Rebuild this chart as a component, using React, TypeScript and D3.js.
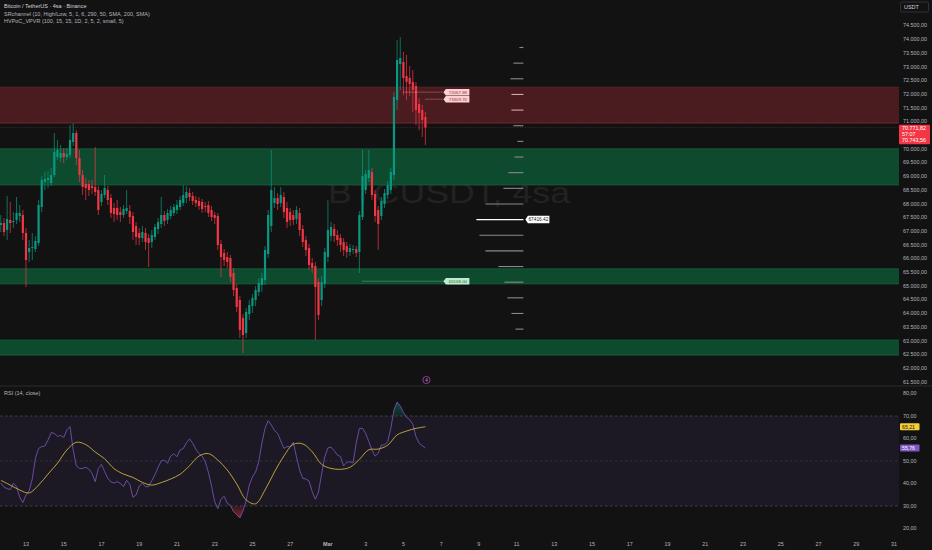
import * as d3 from 'd3'

const FONT = "'Liberation Sans', Arial, sans-serif"
const BG = '#121212'
const UP = '#089981'
const DOWN = '#f23645'

// 4h bars, first one opens Feb 11 16:00
const BAR_START = Date.UTC(2026, 1, 11, 16)
const BAR_MS = 4 * 3600 * 1000

const OPEN = [
  67219, 67292, 67036, 67401, 67328, 67401, 67547, 67584, 66927, 66233,
  66379, 66343, 66562, 67876, 68788, 68861, 68752, 69044, 69701, 69664,
  69847, 69701, 69774, 70248, 70577, 69664, 69044, 68715, 68715, 68642,
  68606, 68496, 68058, 68314, 68496, 68204, 67839, 67839, 67693, 67584,
  67730, 67730, 67547, 67182, 66927, 66744, 66927, 66744, 66598, 66781,
  67073, 67255, 67584, 67401, 67547, 67657, 67766, 67876, 68022, 68204,
  68387, 68277, 68131, 68095, 68058, 67912, 67949, 67766, 67584, 67547,
  66525, 66197, 66051, 66014, 65466, 64919, 64481, 63824, 63277, 63970,
  64262, 64481, 64773, 65029, 65211, 66160, 67182, 68022, 68204, 68022,
  68241, 67839, 67693, 67584, 67438, 67657, 67073, 66671, 66379, 65832,
  65722, 65138, 64481, 65065, 66051, 66817, 67073, 66854, 66744, 66598,
  66452, 66233, 66306, 66343, 66233, 67511, 68496, 68934, 69153, 68350,
  67766, 67547, 67985, 68314, 68496, 69044, 71781, 73095, 73168, 72657,
  72584, 72438, 72292, 71635, 71416, 71161,
]
const HIGH = [
  67584, 67474, 68277, 68058, 67693, 68241, 67949, 67766, 67109, 66671,
  66927, 66817, 68131, 69007, 69153, 69190, 69299, 70577, 70321, 70139,
  70029, 70029, 70869, 70942, 70686, 69956, 69226, 68934, 68861, 68861,
  70066, 68642, 68496, 69044, 68642, 68350, 68022, 68131, 67876, 67949,
  68496, 67949, 67693, 67328, 67109, 67182, 67109, 66890, 67036, 67255,
  67474, 68241, 67730, 67803, 67912, 67985, 68131, 68277, 68679, 68642,
  68569, 68423, 68277, 68241, 68168, 68058, 68095, 67912, 67693, 67657,
  66671, 66343, 66233, 66124, 65649, 65065, 64627, 63970, 64189, 64481,
  64700, 64992, 65284, 65466, 66452, 67766, 69956, 68606, 68387, 68606,
  68423, 68058, 67839, 67766, 67912, 67839, 67219, 66817, 66525, 66014,
  65868, 65284, 65357, 66379, 68131, 67328, 67255, 67036, 66890, 66744,
  66598, 66525, 66489, 66452, 67730, 69956, 69226, 69956, 69299, 68496,
  67912, 68241, 68533, 68825, 69299, 72073, 73971, 74080, 73533, 73424,
  73022, 72876, 72438, 71854, 71599, 71343,
]
const LOW = [
  66963, 66817, 66671, 66927, 67109, 67255, 67328, 66671, 64956, 65868,
  65941, 66233, 66452, 67693, 68496, 68569, 68642, 68971, 69591, 69518,
  69481, 69591, 69664, 70102, 69408, 68788, 68314, 68131, 68277, 68350,
  68277, 67584, 67912, 68204, 67949, 67474, 67328, 67401, 67328, 67474,
  67620, 67255, 66671, 66489, 66489, 66598, 66306, 65686, 66379, 66671,
  66890, 67109, 67182, 67255, 67438, 67547, 67620, 67766, 67912, 68022,
  68095, 67949, 67876, 67766, 67657, 67693, 67511, 67365, 67255, 66306,
  65321, 65722, 65649, 65138, 64627, 64043, 63094, 62547, 63094, 63751,
  64007, 64262, 64627, 64773, 65029, 66014, 66963, 67839, 67766, 67876,
  67474, 67109, 67182, 67219, 67255, 66817, 66416, 66087, 65576, 65466,
  63021, 63751, 64262, 64919, 65868, 66635, 66598, 66452, 66233, 66087,
  66014, 66087, 66160, 66051, 65466, 67401, 68350, 68788, 68131, 67328,
  66306, 67401, 67839, 68168, 68350, 68861, 71416, 72146, 71964, 71781,
  71927, 71343, 70869, 70686, 70431, 70139,
]
const CLOSE = [
  67292, 66963, 67438, 67292, 67365, 67657, 67657, 66927, 65941, 66379,
  66416, 66635, 67949, 68861, 68898, 68934, 69044, 69883, 69956, 69847,
  69701, 69810, 70321, 70577, 69664, 69044, 68606, 68569, 68496, 68569,
  68423, 67766, 68350, 68569, 68131, 67657, 67620, 67584, 67584, 67803,
  67839, 67511, 66963, 66781, 66744, 66963, 66598, 66562, 66854, 67146,
  67328, 67584, 67365, 67657, 67766, 67876, 67949, 68131, 68314, 68423,
  68241, 68095, 68022, 67912, 67803, 67876, 67657, 67511, 67474, 66489,
  66051, 65941, 65868, 65321, 64846, 64226, 63386, 63203, 64043, 64298,
  64554, 64846, 65102, 65284, 66306, 67584, 68496, 68204, 67985, 68314,
  67693, 67328, 67401, 67401, 67766, 67036, 66598, 66306, 65759, 65649,
  64956, 63933, 65138, 66233, 67036, 67146, 66817, 66671, 66489, 66306,
  66233, 66379, 66343, 66197, 67584, 69007, 69080, 69226, 68314, 67547,
  67255, 68095, 68387, 68679, 69153, 71891, 73241, 73314, 72584, 72438,
  72365, 72146, 71416, 71307, 71051, 70771.82,
]

// RSI(14) per bar, and its moving average read every third bar
const RSI = [
  40.2, 38.4, 37.7, 37.3, 40.1, 38.6, 33.9, 31.5, 34.9, 36.7,
  42.1, 51.2, 55.6, 56.4, 56.7, 59.3, 62.6, 62.3, 61.0, 61.3,
  60.5, 63.8, 65.3, 54.9, 47.8, 46.7, 46.7, 47.2, 46.4, 44.5,
  40.8, 46.7, 48.5, 45.3, 42.4, 40.7, 40.2, 40.8, 40.1, 38.6,
  41.4, 39.6, 33.9, 34.9, 38.9, 40.1, 38.6, 38.6, 41.3, 43.9,
  47.2, 50.0, 50.4, 49.0, 52.1, 53.3, 51.9, 54.9, 55.5, 58.1,
  59.8, 57.9, 55.2, 53.3, 52.2, 49.7, 45.0, 38.9, 31.9, 28.8,
  33.1, 34.3, 31.2, 30.3, 27.5, 26.1, 24.7, 27.8, 32.4, 39.3,
  42.9, 45.1, 49.7, 57.9, 64.5, 67.9, 66.0, 63.6, 62.3, 58.9,
  55.6, 56.4, 56.4, 58.3, 51.9, 46.0, 42.3, 42.0, 41.1, 36.4,
  33.0, 36.2, 44.2, 51.9, 55.8, 56.2, 54.6, 52.7, 51.9, 47.8,
  49.4, 49.7, 49.1, 57.9, 64.5, 64.5, 62.3, 58.6, 54.9, 52.2,
  53.4, 57.1, 57.1, 58.6, 64.5, 72.7, 76.2, 74.4, 71.6, 69.4,
  68.4, 66.3, 60.8, 57.9, 56.8, 55.76,
]
const RSI_MA = [
  41.4, 39.3, 37.1, 35.8, 39.3, 44.2, 49.0, 54.9, 58.3, 57.3,
  54.0, 51.0, 46.6, 44.2, 42.7, 40.5, 39.3, 40.4, 42.0, 44.1,
  47.9, 52.2, 53.3, 50.4, 46.0, 39.8, 32.7, 31.0, 37.1, 45.1,
  52.2, 57.4, 57.6, 54.1, 48.5, 46.7, 46.3, 47.2, 50.7, 55.0,
  55.3, 57.0, 61.6, 63.3, 64.5, 65.21,
]
const RSI_MA_EVERY = 3

// SR channel zones
const ZONE_TOP = [72250, 70000, 65620, 63020]
const ZONE_BOTTOM = [70940, 68680, 65070, 62470]
const ZONE_KIND = ['res', 'sup', 'sup', 'sup']

// visible-range volume profile rows
const VP_PRICE = [
  73697, 73126, 72555, 71984, 71413, 70842, 70271, 69700, 69129, 68558,
  67987, 67416, 66845, 66274, 65703, 65132, 64561, 63990, 63419,
]
const VP_VOLUME = [4, 10, 13, 12, 12, 10, 6, 9, 15, 20, 38, 47, 44, 38, 25, 19, 16, 12, 8]
const POC_LABEL = '67416.42'

// pivot markers
const PIVOT_PRICE = [72067.88, 71809.76, 65168.0]
const PIVOT_FROM = [128, 135, 115]
const PIVOT_KIND = ['res', 'res', 'sup']

const PRICE_TICKS = [
  74500, 74000, 73500, 73000, 72500, 72000, 71500, 71000, 70500,
  70000, 69500, 69000, 68500, 68000, 67500, 67000, 66500, 66000, 65500,
  65000, 64500, 64000, 63500, 63000, 62500, 62000, 61500,
]
const RSI_TICKS = [80, 70, 60, 50, 40, 30, 20]
const TIME_TICKS = [
  '2026-02-13', '2026-02-15', '2026-02-17', '2026-02-19', '2026-02-21', '2026-02-23',
  '2026-02-25', '2026-02-27', '2026-03-01', '2026-03-03', '2026-03-05', '2026-03-07',
  '2026-03-09', '2026-03-11', '2026-03-13', '2026-03-15', '2026-03-17', '2026-03-19',
  '2026-03-21', '2026-03-23', '2026-03-25', '2026-03-27', '2026-03-29', '2026-03-31',
]
const TIME_LABELS = [
  '13', '15', '17', '19', '21', '23', '25', '27', 'Mar', '3', '5', '7',
  '9', '11', '13', '15', '17', '19', '21', '23', '25', '27', '29', '31',
]

const LAST_PRICE = 70771.82
const LAST_PRICE_2 = 70743.56
const COUNTDOWN = '57:07'

const W = 932
const H = 550
const PLOT_R = 899
const MAIN_B = 386

const locale = d3.formatLocale({ decimal: ',', thousands: '.', grouping: [3], currency: ['', ''] })
const fmt = locale.format(',.2f')

const barTime = (i: number) => new Date(BAR_START + i * BAR_MS)

const tag = (x: number, y: number, w: number, h: number) =>
  `M${x},${y} L${x + 2.5},${y - h / 2} L${x + w},${y - h / 2} L${x + w},${y + h / 2} L${x + 2.5},${y + h / 2} Z`

export default function App() {
  const xT = d3.scaleUtc()
    .domain([new Date(Date.UTC(2026, 1, 13)), new Date(Date.UTC(2026, 2, 31))])
    .range([26, 894])
  const yP = d3.scaleLinear().domain([72000, 62000]).range([94, 368])
  const yR = d3.scaleLinear().domain([70, 30]).range([416, 506])

  const lastIdx = CLOSE.length - 1
  const lastX = xT(barTime(lastIdx))
  const vpRight = lastX + 98
  const pivotLabelX = lastX + 18
  const vLen = d3.scaleLinear().domain([0, d3.max(VP_VOLUME) ?? 1]).range([0, 47])
  const pocIdx = VP_VOLUME.indexOf(d3.max(VP_VOLUME) ?? 0)

  const rsiLine = d3.line<number>().x((_, i) => xT(barTime(i))).y(v => yR(v))
  const maLine = d3.line<number>()
    .x((_, k) => xT(barTime(Math.min(k * RSI_MA_EVERY, lastIdx))))
    .y(v => yR(v))
    .curve(d3.curveCatmullRom)
  const obArea = d3.area<number>().x((_, i) => xT(barTime(i))).y0(yR(70)).y1(v => yR(v))
  const osArea = d3.area<number>().x((_, i) => xT(barTime(i))).y0(yR(30)).y1(v => yR(v))

  const inRes = (p: number) => ZONE_KIND.some((k, z) => k === 'res' && p <= ZONE_TOP[z] && p >= ZONE_BOTTOM[z])

  // price box hides the tick labels behind it
  const boxTop = yP(LAST_PRICE) - 3
  const boxBot = boxTop + 19.5
  const visibleTicks = PRICE_TICKS.filter(p => yP(p) < boxTop - 2 || yP(p) > boxBot + 2)

  return (
    <>
      <style>{`body{margin:0;background:${BG}}`}</style>
      <svg width={W} height={H} style={{ display: 'block', background: BG, fontFamily: FONT }}>
        <defs>
          <clipPath id="mainClip"><rect x={0} y={0} width={PLOT_R} height={MAIN_B} /></clipPath>
          <clipPath id="obClip"><rect x={0} y={MAIN_B} width={PLOT_R} height={yR(70) - MAIN_B} /></clipPath>
          <clipPath id="osClip"><rect x={0} y={yR(30)} width={PLOT_R} height={H - yR(30)} /></clipPath>
          <linearGradient id="obGrad" gradientUnits="userSpaceOnUse" x1={0} y1={yR(70)} x2={0} y2={yR(80)}>
            <stop offset="0" stopColor={UP} stopOpacity={0.15} />
            <stop offset="1" stopColor={UP} stopOpacity={0.6} />
          </linearGradient>
          <linearGradient id="osGrad" gradientUnits="userSpaceOnUse" x1={0} y1={yR(30)} x2={0} y2={yR(22)}>
            <stop offset="0" stopColor={DOWN} stopOpacity={0.15} />
            <stop offset="1" stopColor={DOWN} stopOpacity={0.7} />
          </linearGradient>
        </defs>

        {/* watermark */}
        <text x={328} y={203} fontSize={30} fill="#222222" textLength={242} lengthAdjust="spacingAndGlyphs">
          BTCUSDT, 4sa
        </text>

        {/* zones */}
        <g clipPath="url(#mainClip)">
          {ZONE_TOP.map((top, z) => {
            const res = ZONE_KIND[z] === 'res'
            const y0 = yP(top)
            const y1 = yP(ZONE_BOTTOM[z])
            return (
              <g key={z}>
                <rect x={0} y={y0} width={PLOT_R} height={y1 - y0} fill={res ? '#4a1b1f' : '#0e4a2e'} />
                <line x1={0} x2={PLOT_R} y1={y0} y2={y0} stroke={res ? '#6a272d' : '#176a40'} strokeWidth={0.7} />
                <line x1={0} x2={PLOT_R} y1={y1} y2={y1} stroke={res ? '#8a2f37' : '#176a40'} strokeWidth={0.7} />
              </g>
            )
          })}

          {/* last price line */}
          <line x1={0} x2={PLOT_R} y1={yP(LAST_PRICE)} y2={yP(LAST_PRICE)}
            stroke={DOWN} strokeOpacity={0.55} strokeWidth={0.6} strokeDasharray="1 1.5" />

          {/* candles */}
          {OPEN.map((o, i) => {
            const c = CLOSE[i]
            const x = xT(barTime(i))
            const col = c >= o ? UP : DOWN
            const top = yP(Math.max(o, c))
            const h = Math.max(0.7, yP(Math.min(o, c)) - top)
            return (
              <g key={i}>
                <line x1={x} x2={x} y1={yP(HIGH[i])} y2={yP(LOW[i])} stroke={col} strokeWidth={0.7} />
                <rect x={x - 1.1} y={top} width={2.2} height={h} fill={col} />
              </g>
            )
          })}

          {/* volume profile rows */}
          {VP_PRICE.map((p, k) => {
            const poc = k === pocIdx
            return (
              <line key={k} x1={vpRight - vLen(VP_VOLUME[k])} x2={vpRight} y1={yP(p)} y2={yP(p)}
                stroke={poc ? '#ffffff' : inRes(p) ? '#d9a3a8' : '#8a8a8a'}
                strokeWidth={poc ? 1.3 : 1.1} />
            )
          })}

          {/* pivots */}
          {PIVOT_PRICE.map((p, k) => {
            const res = PIVOT_KIND[k] === 'res'
            const y = yP(p)
            return (
              <g key={k}>
                <line x1={xT(barTime(PIVOT_FROM[k]))} x2={pivotLabelX} y1={y} y2={y}
                  stroke={res ? '#f7a9b0' : '#7fe0a6'} strokeWidth={0.7} strokeDasharray="1 1" />
                <path d={tag(pivotLabelX, y, 26, 6.5)} fill={res ? '#f7d3d6' : '#bfeccd'} />
                <text x={pivotLabelX + 14.5} y={y + 1.6} fontSize={4.4} textAnchor="middle"
                  fill={res ? '#b22833' : '#1b6b3a'}>{p.toFixed(2)}</text>
              </g>
            )
          })}

          {/* POC label */}
          <path d={tag(vpRight + 2, yP(VP_PRICE[pocIdx]), 24, 7.5)} fill="#ffffff" />
          <text x={vpRight + 15} y={yP(VP_PRICE[pocIdx]) + 1.8} fontSize={4.8} textAnchor="middle" fill="#131722">
            {POC_LABEL}
          </text>

          {/* event marker */}
          <circle cx={lastX + 1} cy={380} r={3.6} fill={BG} stroke="#ab47bc" strokeWidth={0.8} />
          <text x={lastX + 1} y={381.7} fontSize={4.5} textAnchor="middle" fill="#ce93d8">4</text>
        </g>

        {/* header */}
        <text x={4} y={8} fontSize={5.5} fill="#d1d4dc">Bitcoin / TetherUS · 4sa · Binance</text>
        <text x={4} y={15.5} fontSize={5.5} fill="#b2b5be">SRchannel (10, High/Low, 5, 1, 6, 290, 50, SMA, 200, SMA)</text>
        <text x={4} y={23} fontSize={5.5} fill="#b2b5be">HVPoC_VPVR (100, 15, 15, 1D, 2, 5, 2, small, 5)</text>

        {/* pane separator */}
        <line x1={0} x2={W} y1={MAIN_B} y2={MAIN_B} stroke="#2b2b2b" strokeWidth={1} />

        {/* RSI pane */}
        <rect x={0} y={yR(70)} width={PLOT_R} height={yR(30) - yR(70)} fill="#7e57c2" fillOpacity={0.1} />
        {[70, 50, 30].map(v => (
          <line key={v} x1={0} x2={PLOT_R} y1={yR(v)} y2={yR(v)} stroke="#787b86"
            strokeOpacity={v === 50 ? 0.35 : 0.6} strokeWidth={0.7} strokeDasharray="2.5 2.5" />
        ))}
        <path d={obArea(RSI) ?? ''} fill="url(#obGrad)" clipPath="url(#obClip)" />
        <path d={osArea(RSI) ?? ''} fill="url(#osGrad)" clipPath="url(#osClip)" />
        <path d={rsiLine(RSI) ?? ''} fill="none" stroke="#7e57c2" strokeWidth={0.8} />
        <path d={maLine(RSI_MA) ?? ''} fill="none" stroke="#e0c341" strokeWidth={0.8} />
        <text x={4} y={395} fontSize={5.5} fill="#b2b5be">RSI (14, close)</text>

        {/* price axis */}
        {visibleTicks.map(p => (
          <text key={p} x={903} y={yP(p) + 1.9} fontSize={5.4} fill="#b2b5be">{fmt(p)}</text>
        ))}
        <rect x={900.5} y={2} width={28} height={10} rx={1.5} fill={BG} stroke="#434651" strokeWidth={0.6} />
        <text x={904} y={9.2} fontSize={5.4} fill="#d1d4dc">USDT</text>
        <rect x={899} y={boxTop} width={31} height={19.5} rx={1} fill={DOWN} />
        <text x={902} y={yP(LAST_PRICE) + 1.9} fontSize={5.4} fill="#ffffff">{fmt(LAST_PRICE)}</text>
        <text x={902} y={yP(LAST_PRICE) + 8.2} fontSize={5.4} fill="#ffffff">{COUNTDOWN}</text>
        <text x={902} y={yP(LAST_PRICE) + 14.5} fontSize={5.4} fill="#ffffff">{fmt(LAST_PRICE_2)}</text>

        {/* RSI axis */}
        {RSI_TICKS.map(v => (
          <text key={v} x={903} y={yR(v) + 1.9} fontSize={5.4} fill="#b2b5be">{fmt(v)}</text>
        ))}
        <rect x={900} y={yR(RSI_MA[RSI_MA.length - 1]) - 3.5} width={19.5} height={7} rx={0.8} fill="#f5cf3a" />
        <text x={902} y={yR(RSI_MA[RSI_MA.length - 1]) + 1.9} fontSize={5.2} fill="#131313">
          {fmt(RSI_MA[RSI_MA.length - 1])}
        </text>
        <rect x={900} y={yR(RSI[lastIdx]) - 3.5} width={19.5} height={7} rx={0.8} fill="#7e57c2" />
        <text x={902} y={yR(RSI[lastIdx]) + 1.9} fontSize={5.2} fill="#ffffff">{fmt(RSI[lastIdx])}</text>

        {/* time axis */}
        {TIME_TICKS.map((d, k) => (
          <text key={d} x={xT(new Date(d + 'T00:00:00Z'))} y={546} fontSize={5.4} textAnchor="middle"
            fill="#b2b5be" fontWeight={TIME_LABELS[k] === 'Mar' ? 700 : 400}>
            {TIME_LABELS[k]}
          </text>
        ))}
      </svg>
    </>
  )
}
